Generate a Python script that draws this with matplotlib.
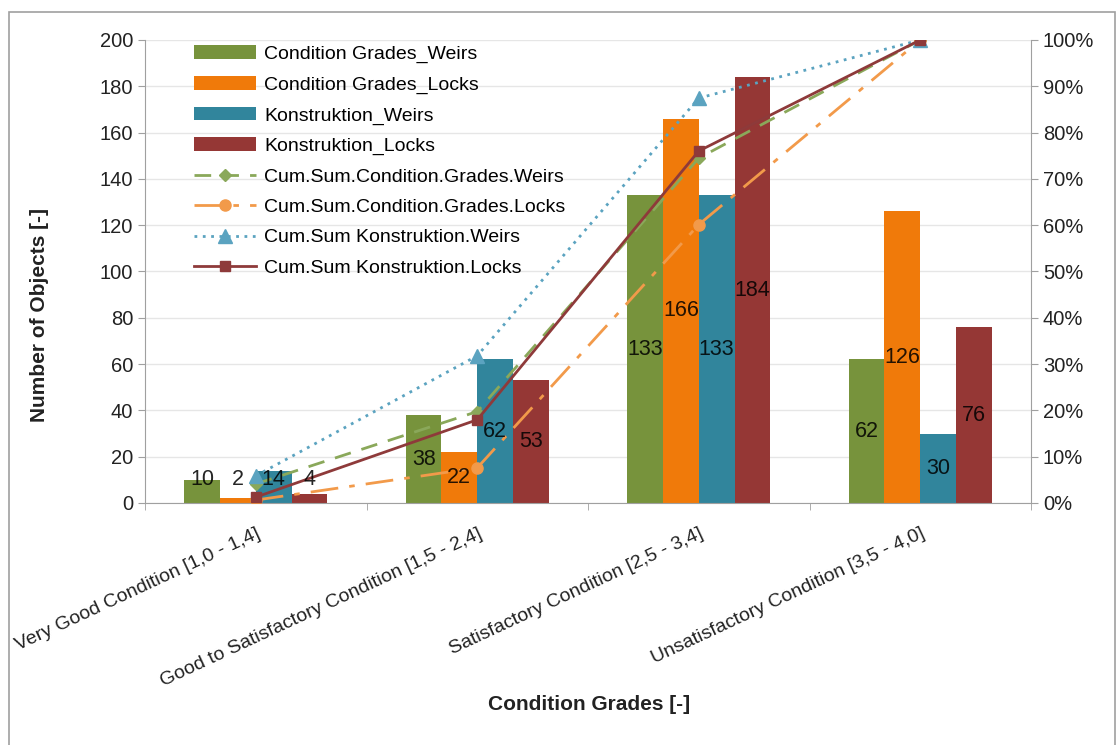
import numpy as np
import matplotlib.pyplot as plt
from matplotlib.patches import Rectangle
from matplotlib.ticker import PercentFormatter

plt.rcParams['font.family'] = ['Liberation Sans', 'DejaVu Sans']

categories = ["Very Good Condition [1,0 - 1,4]",
              "Good to Satisfactory Condition [1,5 - 2,4]",
              "Satisfactory Condition [2,5 - 3,4]",
              "Unsatisfactory Condition [3,5 - 4,0]"]

grades_weirs = [10, 38, 133, 62]
grades_locks = [2, 22, 166, 126]
konstr_weirs = [14, 62, 133, 30]
konstr_locks = [4, 53, 184, 76]

bar_series = [
    ("Condition Grades_Weirs", grades_weirs, "#77933C"),
    ("Condition Grades_Locks", grades_locks, "#F07A0A"),
    ("Konstruktion_Weirs", konstr_weirs, "#31859C"),
    ("Konstruktion_Locks", konstr_locks, "#953735"),
]

def cum_share(vals):
    c = np.cumsum(vals)
    return c / c[-1]

fig = plt.figure(figsize=(11.17, 7.45), dpi=100)
ax = fig.add_axes([145 / 1117, 1 - 503 / 745, 886 / 1117, 463 / 745])
ax2 = ax.twinx()

x = np.arange(len(categories))
w = 0.1614

handles = []
for i, (name, vals, col) in enumerate(bar_series):
    b = ax.bar(x + (i - 1.5) * w, vals, w, color=col, label=name, zorder=2)
    handles.append(b)

# cumulative lines on the secondary (percent) axis
line_specs = [
    ("Cum.Sum.Condition.Grades.Weirs", grades_weirs, "#8AA85A", (0, (6, 4)), "D", 6),
    ("Cum.Sum.Condition.Grades.Locks", grades_locks, "#F29A4A", (0, (10, 4, 2, 4)), "o", 8),
    ("Cum.Sum Konstruktion.Weirs", konstr_weirs, "#5BA3C0", (0, (1, 2)), "^", 10),
    ("Cum.Sum Konstruktion.Locks", konstr_locks, "#8E3A3A", "-", "s", 7),
]
for name, vals, col, ls, mk, ms in line_specs:
    l, = ax2.plot(x, cum_share(vals), color=col, linestyle=ls, lw=2,
                  marker=mk, markersize=ms, label=name)
    handles.append(l)

# value labels centred in the bars, drawn above the lines
for i, (name, vals, col) in enumerate(bar_series):
    for xi, v in zip(x, vals):
        ax2.text(xi + (i - 1.5) * w, max(v / 2, 10), str(v), transform=ax.transData,
                 ha="center", va="center", fontsize=15.5, color="black", alpha=0.85,
                 zorder=5)

ax.set_xlim(-0.5, 3.5)
ax.set_ylim(0, 200)
ax2.set_ylim(0, 1)
ax.set_yticks(np.arange(0, 201, 20))
ax2.set_yticks(np.arange(0, 1.01, 0.1))
ax2.yaxis.set_major_formatter(PercentFormatter(1.0, decimals=0))

ax.set_xticks(x)
ax.set_xticklabels(categories, rotation=25, ha="right", rotation_mode="anchor",
                   fontsize=14, color="#222222")
ax.set_xticks(np.arange(-0.5, 3.6, 1), minor=True)
ax.tick_params(axis="x", which="major", length=0, pad=16)
ax.tick_params(axis="x", which="minor", length=5, color="#A0A0A0")
ax.tick_params(axis="y", labelsize=14.5, length=5, color="#A0A0A0", labelcolor="#222222")
ax2.tick_params(axis="y", labelsize=14.5, length=5, color="#A0A0A0", labelcolor="#222222")

ax.yaxis.grid(True, color="#E6E6E6", lw=1, zorder=0)
ax.set_axisbelow(True)
for a in (ax, ax2):
    a.spines["top"].set_visible(False)
    for s in ("left", "right", "bottom"):
        a.spines[s].set_color("#A0A0A0")
ax.spines["right"].set_visible(False)
ax2.spines["left"].set_visible(False)
ax2.spines["bottom"].set_visible(False)

fig.text(40 / 1117, 1 - 315 / 745, "Number of Objects [-]", rotation=90,
         ha="center", va="center", fontsize=15, fontweight="bold", color="#222222")
fig.text(589 / 1117, 1 - 705 / 745, "Condition Grades [-]",
         ha="center", va="center", fontsize=15, fontweight="bold", color="#222222")

ax2.legend(handles=handles, loc="upper left", bbox_to_anchor=(0.035, 1.026),
           frameon=False, fontsize=14, handlelength=3.2, labelspacing=0.66,
           handletextpad=0.45)

# outer chart frame
fig.patches.append(Rectangle((9 / 1117, -0.1), 1106 / 1117, 1.1 - 12 / 745,
                             transform=fig.transFigure, fill=False,
                             edgecolor="#A0A0A0", lw=1.2))

fig.savefig("out.png", dpi=100)
